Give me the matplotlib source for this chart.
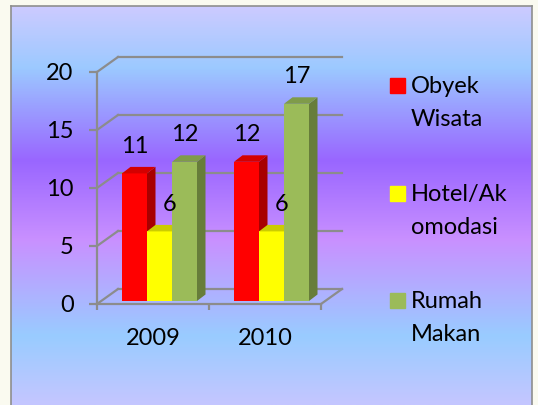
import matplotlib.pyplot as plt
import numpy as np
from matplotlib.colors import LinearSegmentedColormap

years = ["2009", "2010"]
series = ["Obyek\nWisata", "Hotel/Ak\nomodasi", "Rumah\nMakan"]
obyek_wisata = [11, 12]
hotel_akomodasi = [6, 6]
rumah_makan = [12, 17]
values = [obyek_wisata, hotel_akomodasi, rumah_makan]
y_ticks = [0, 5, 10, 15, 20]

front_colors = ["#ff0000", "#ffff00", "#9bbb59"]
side_colors = ["#a80000", "#b8b800", "#677d3a"]
top_colors = ["#d40000", "#cccc00", "#7f9b4a"]
grid_color = "#8c8c8c"

plt.rcParams["font.family"] = ["Lato", "DejaVu Sans"]
plt.rcParams["font.size"] = 17

W, H = 538, 405
fig = plt.figure(figsize=(W / 100, H / 100), dpi=100, facecolor="#fafaf0")

# gradient panel
bg = fig.add_axes([11 / W, 0, (532 - 11) / W, 399 / H])
cmap = LinearSegmentedColormap.from_list(
    "panel",
    [(0.0, "#cccbff"), (0.153, "#9cc9ff"), (0.386, "#9966ff"),
     (0.586, "#c990ff"), (0.83, "#99ccff"), (1.0, "#c4c6ff")],
)
bg.imshow(np.linspace(0, 1, 400).reshape(-1, 1), cmap=cmap, aspect="auto",
          extent=[0, 1, 0, 1])
bg.set_xticks([])
bg.set_yticks([])
for s in ["left", "top", "right"]:
    bg.spines[s].set_color("#8e8e8e")
    bg.spines[s].set_linewidth(1.2)
bg.spines["bottom"].set_visible(False)

# front plane of the 3D box
ax = fig.add_axes([97 / W, (H - 304) / H, 224 / W, 232 / H])
ax.set_facecolor("none")
ax.set_xlim(-0.5, 1.5)
ax.set_ylim(0, 20)

ux = 112.0   # px per x unit
uy = 11.6    # px per y unit
DX, DY = 21 / ux, 15 / uy          # wall depth
sdx, sdy = 8.5 / ux, 6.5 / uy      # bar depth
base = 3 / uy                      # bar baseline inside the box
bw = 25 / ux
shift = 6.5 / ux

# walls and floor
for v in y_ticks:
    ax.plot([-0.5 + DX, 1.5 + DX], [v + DY, v + DY], color=grid_color,
            lw=1.6, clip_on=False, zorder=1)
    ax.plot([-0.5, -0.5 + DX], [v, v + DY], color=grid_color, lw=1.6,
            clip_on=False, zorder=1)
ax.plot([1.5, 1.5 + DX], [0, DY], color=grid_color, lw=1.6,
        clip_on=False, zorder=1)

for s in ["top", "right"]:
    ax.spines[s].set_visible(False)
for s in ["left", "bottom"]:
    ax.spines[s].set_color(grid_color)
    ax.spines[s].set_linewidth(1.6)

ax.set_yticks(y_ticks)
ax.tick_params(axis="y", length=5.8, width=1.6, color=grid_color, pad=11)
ax.set_xticks([0, 1], years)
ax.set_xticks([-0.5, 0.5, 1.5], minor=True)
ax.tick_params(axis="x", which="major", length=0, pad=17)
ax.tick_params(axis="x", which="minor", length=4.3, width=1.6,
               color=grid_color)

label_dx = [0, 7.6, 0]
x = np.arange(len(years))
for i, vals in enumerate(values):
    xc = x + shift + (i - 1) * bw
    ax.bar(xc, vals, width=bw, bottom=base, color=front_colors[i],
           zorder=3 + i)
    for xi, v in zip(xc, vals):
        xl, xr, yt = xi - bw / 2, xi + bw / 2, base + v
        ax.fill([xr, xr + sdx, xr + sdx, xr],
                [base, base + sdy, yt + sdy, yt],
                color=side_colors[i], zorder=3 + i, lw=0)
        ax.fill([xl, xl + sdx, xr + sdx, xr], [yt, yt + sdy, yt + sdy, yt],
                color=top_colors[i], zorder=3 + i, lw=0)
        ax.annotate(str(v), (xi, yt), xytext=(label_dx[i], 19.4),
                    textcoords="offset points", ha="center", va="center",
                    zorder=10)

# legend
for i, name in enumerate(series):
    top = 78 + i * 107.5
    fig.patches.append(plt.Rectangle((390 / W, 1 - (top + 15) / H), 15 / W,
                                     15 / H, transform=fig.transFigure,
                                     color=front_colors[i]))
    fig.text(411 / W, 1 - (top - 2) / H, name, ha="left", va="top",
             linespacing=1.72)

fig.savefig("out.png", dpi=100, facecolor=fig.get_facecolor())
